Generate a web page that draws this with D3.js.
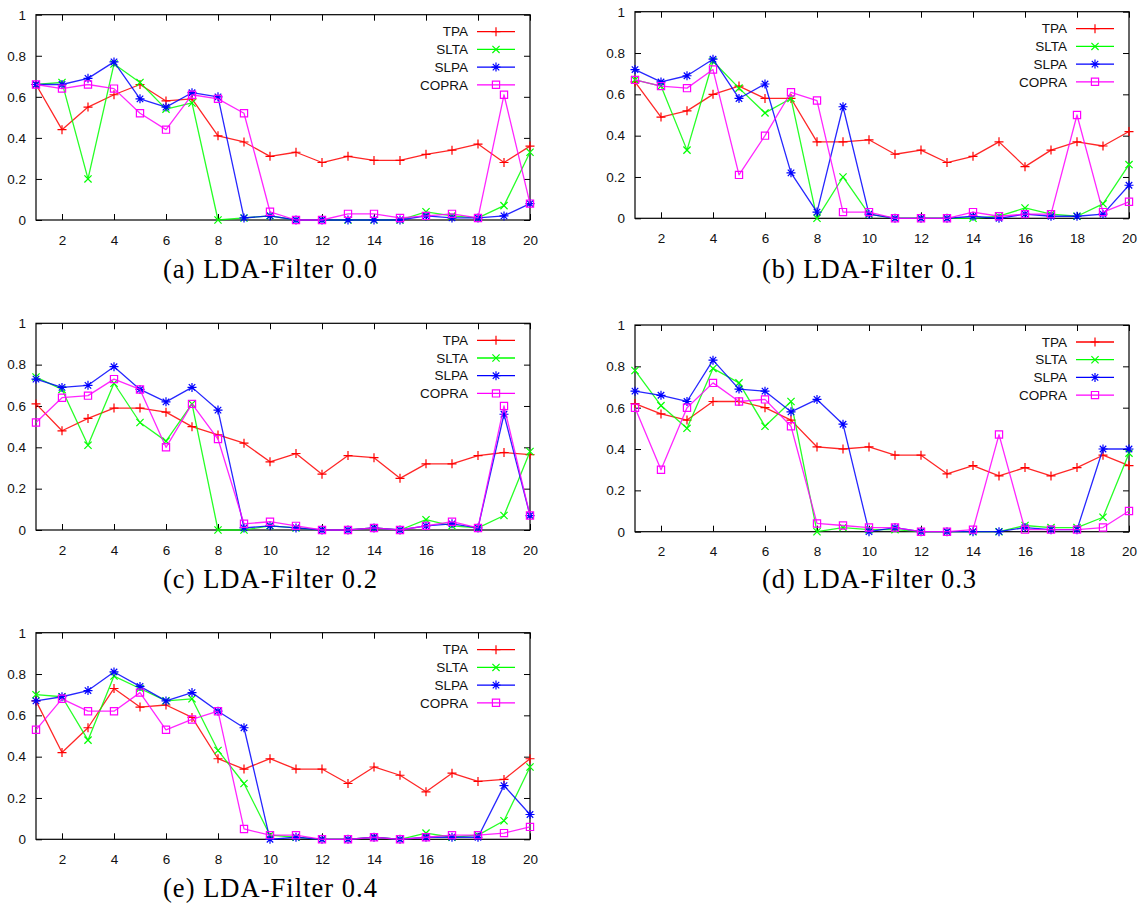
<!DOCTYPE html>
<html>
<head>
<meta charset="utf-8">
<script src="https://cdn.jsdelivr.net/npm/d3@7"></script>
<style>
  html, body { margin: 0; padding: 0; background: #fff; }
  svg { display: block; }
</style>
</head>
<body>
<script>
// Run index on the x axis, score on the y axis
const runs = [1, 2, 3, 4, 5, 6, 7, 8, 9, 10, 11, 12, 13, 14, 15, 16, 17, 18, 19, 20];
const xTicks = [2, 4, 6, 8, 10, 12, 14, 16, 18, 20];
const yTicks = [0, 0.2, 0.4, 0.6, 0.8, 1];
const yTickLabels = ["0", "0.2", "0.4", "0.6", "0.8", "1"];
const methods = ["TPA", "SLTA", "SLPA", "COPRA"];
const captions = ["(a) LDA-Filter 0.0", "(b) LDA-Filter 0.1", "(c) LDA-Filter 0.2", "(d) LDA-Filter 0.3", "(e) LDA-Filter 0.4"];

// LDA-Filter 0.0
const tpa00   = [0.66, 0.44, 0.55, 0.61, 0.66, 0.58, 0.59, 0.41, 0.38, 0.31, 0.33, 0.28, 0.31, 0.29, 0.29, 0.32, 0.34, 0.37, 0.28, 0.36];
const slta00  = [0.66, 0.67, 0.20, 0.76, 0.67, 0.54, 0.57, 0.00, 0.01, 0.02, 0.00, 0.00, 0.00, 0.00, 0.00, 0.04, 0.02, 0.01, 0.07, 0.33];
const slpa00  = [0.66, 0.66, 0.69, 0.77, 0.59, 0.55, 0.62, 0.60, 0.01, 0.02, 0.00, 0.00, 0.00, 0.00, 0.00, 0.02, 0.01, 0.01, 0.02, 0.08];
const copra00 = [0.66, 0.64, 0.66, 0.64, 0.52, 0.44, 0.61, 0.59, 0.52, 0.04, 0.00, 0.00, 0.03, 0.03, 0.01, 0.02, 0.03, 0.01, 0.61, 0.08];

// LDA-Filter 0.1
const tpa01   = [0.66, 0.49, 0.52, 0.60, 0.64, 0.58, 0.58, 0.37, 0.37, 0.38, 0.31, 0.33, 0.27, 0.30, 0.37, 0.25, 0.33, 0.37, 0.35, 0.42];
const slta01  = [0.67, 0.64, 0.33, 0.76, 0.63, 0.51, 0.58, 0.00, 0.20, 0.02, 0.00, 0.00, 0.00, 0.00, 0.01, 0.05, 0.02, 0.01, 0.07, 0.26];
const slpa01  = [0.72, 0.66, 0.69, 0.77, 0.58, 0.65, 0.22, 0.03, 0.54, 0.02, 0.00, 0.00, 0.00, 0.01, 0.00, 0.02, 0.01, 0.01, 0.02, 0.16];
const copra01 = [0.67, 0.64, 0.63, 0.72, 0.21, 0.40, 0.61, 0.57, 0.03, 0.03, 0.00, 0.00, 0.00, 0.03, 0.01, 0.02, 0.02, 0.50, 0.03, 0.08];

// LDA-Filter 0.2
const tpa02   = [0.61, 0.48, 0.54, 0.59, 0.59, 0.57, 0.50, 0.46, 0.42, 0.33, 0.37, 0.27, 0.36, 0.35, 0.25, 0.32, 0.32, 0.36, 0.375, 0.365];
const slta02  = [0.74, 0.68, 0.41, 0.71, 0.52, 0.43, 0.61, 0.00, 0.00, 0.02, 0.01, 0.00, 0.00, 0.01, 0.00, 0.05, 0.02, 0.01, 0.07, 0.38];
const slpa02  = [0.73, 0.69, 0.70, 0.79, 0.68, 0.62, 0.69, 0.58, 0.01, 0.02, 0.01, 0.00, 0.00, 0.01, 0.00, 0.02, 0.03, 0.01, 0.56, 0.07];
const copra02 = [0.52, 0.64, 0.65, 0.73, 0.68, 0.40, 0.61, 0.44, 0.03, 0.04, 0.02, 0.00, 0.00, 0.01, 0.00, 0.02, 0.04, 0.01, 0.60, 0.07];

// LDA-Filter 0.3
const tpa03   = [0.62, 0.57, 0.54, 0.63, 0.63, 0.60, 0.54, 0.41, 0.40, 0.41, 0.37, 0.37, 0.28, 0.32, 0.27, 0.31, 0.27, 0.31, 0.37, 0.32];
const slta03  = [0.78, 0.61, 0.50, 0.79, 0.72, 0.51, 0.63, 0.00, 0.02, 0.01, 0.01, 0.00, 0.00, 0.00, 0.00, 0.03, 0.02, 0.02, 0.07, 0.38];
const slpa03  = [0.68, 0.66, 0.63, 0.83, 0.69, 0.68, 0.58, 0.64, 0.52, 0.00, 0.02, 0.00, 0.00, 0.00, 0.00, 0.02, 0.01, 0.01, 0.40, 0.40];
const copra03 = [0.60, 0.30, 0.60, 0.72, 0.63, 0.64, 0.51, 0.04, 0.03, 0.02, 0.02, 0.00, 0.00, 0.01, 0.47, 0.01, 0.01, 0.01, 0.02, 0.10];

// LDA-Filter 0.4
const tpa04   = [0.67, 0.42, 0.54, 0.73, 0.64, 0.65, 0.59, 0.39, 0.34, 0.39, 0.34, 0.34, 0.27, 0.35, 0.31, 0.23, 0.32, 0.28, 0.29, 0.39];
const slta04  = [0.70, 0.69, 0.48, 0.79, 0.73, 0.67, 0.68, 0.43, 0.27, 0.02, 0.01, 0.00, 0.00, 0.01, 0.00, 0.03, 0.01, 0.02, 0.09, 0.35];
const slpa04  = [0.67, 0.69, 0.72, 0.81, 0.74, 0.67, 0.71, 0.62, 0.54, 0.00, 0.01, 0.00, 0.00, 0.01, 0.00, 0.01, 0.01, 0.01, 0.26, 0.12];
const copra04 = [0.53, 0.68, 0.62, 0.62, 0.71, 0.53, 0.58, 0.62, 0.05, 0.02, 0.02, 0.00, 0.00, 0.01, 0.00, 0.01, 0.02, 0.02, 0.03, 0.06];

const panelSeries = [
  [tpa00, slta00, slpa00, copra00],
  [tpa01, slta01, slpa01, copra01],
  [tpa02, slta02, slpa02, copra02],
  [tpa03, slta03, slpa03, copra03],
  [tpa04, slta04, slpa04, copra04]
];

// Styling and layout
const colors = ["#ff0000", "#00ff00", "#0000ff", "#ff00ff"];
const markerKinds = ["plus", "cross", "star", "square"];
const frames = [
  { left: 36,  right: 530,  top: 14.7,  bottom: 220,   capY: 278 },
  { left: 635, right: 1129, top: 11.7,  bottom: 218.3, capY: 278 },
  { left: 36,  right: 530,  top: 323.3, bottom: 530,   capY: 588 },
  { left: 635, right: 1129, top: 325,   bottom: 531.7, capY: 588 },
  { left: 36,  right: 530,  top: 632.7, bottom: 839.3, capY: 897 }
];
const tickFont = "'Liberation Sans', Arial, sans-serif";
const tickSize = 13.5;

const svg = d3.select("body").append("svg")
  .attr("width", 1148).attr("height", 908);

function markerPath(kind, r) {
  const p = d3.path();
  if (kind === "plus" || kind === "star") {
    p.moveTo(-r, 0); p.lineTo(r, 0);
    p.moveTo(0, -r); p.lineTo(0, r);
  }
  if (kind === "cross" || kind === "star") {
    const c = kind === "star" ? r * 0.72 : r * 0.8;
    p.moveTo(-c, -c); p.lineTo(c, c);
    p.moveTo(-c, c); p.lineTo(c, -c);
  }
  if (kind === "square") {
    const s = 3.6;
    p.rect(-s, -s, 2 * s, 2 * s);
  }
  return p.toString();
}

frames.forEach((f, pi) => {
  const g = svg.append("g");
  const x = d3.scaleLinear().domain([1, 20]).range([f.left, f.right]);
  const y = d3.scaleLinear().domain([0, 1]).range([f.bottom, f.top]);

  // axes with inward ticks, mirrored on top and right
  const styleAxis = sel => {
    sel.select(".domain").remove();
    sel.selectAll(".tick line").attr("stroke", "#000").attr("stroke-width", 1);
    sel.selectAll("text").attr("fill", "#111")
      .attr("font-family", tickFont).attr("font-size", tickSize);
  };
  g.append("g").attr("transform", `translate(0,${f.bottom})`)
    .call(d3.axisBottom(x).tickValues(xTicks).tickSize(-6).tickPadding(15).tickFormat(d3.format("d")))
    .call(styleAxis);
  g.append("g").attr("transform", `translate(0,${f.top})`)
    .call(d3.axisTop(x).tickValues(xTicks).tickSize(-6).tickFormat(""))
    .call(styleAxis);
  g.append("g").attr("transform", `translate(${f.left},0)`)
    .call(d3.axisLeft(y).tickValues(yTicks).tickSize(-6).tickPadding(10)
      .tickFormat((d, i) => yTickLabels[i]))
    .call(styleAxis);
  g.append("g").attr("transform", `translate(${f.right},0)`)
    .call(d3.axisRight(y).tickValues(yTicks).tickSize(-6).tickFormat(""))
    .call(styleAxis);

  // plot border
  g.append("rect")
    .attr("x", f.left).attr("y", f.top)
    .attr("width", f.right - f.left).attr("height", f.bottom - f.top)
    .attr("fill", "none").attr("stroke", "#000").attr("stroke-width", 1.2);

  // series lines and point markers
  const line = d3.line().x((d, i) => x(runs[i])).y(d => y(d));
  panelSeries[pi].forEach((vals, si) => {
    g.append("path").datum(vals)
      .attr("d", line)
      .attr("fill", "none").attr("stroke", colors[si])
      .attr("stroke-width", 1.3).attr("stroke-opacity", 0.85)
      .attr("stroke-linejoin", "round");
    g.selectAll(null).data(vals).enter().append("path")
      .attr("transform", (d, i) => `translate(${x(runs[i])},${y(d)})`)
      .attr("d", markerPath(markerKinds[si], 4.5))
      .attr("fill", "none").attr("stroke", colors[si]).attr("stroke-width", 1.2);
  });

  // legend
  methods.forEach((m, si) => {
    const ly = f.top + 17 + si * 17.7;
    g.append("text")
      .attr("x", f.right - 62).attr("y", ly).attr("dy", "0.35em")
      .attr("text-anchor", "end")
      .attr("font-family", tickFont).attr("font-size", tickSize).attr("fill", "#111")
      .text(m);
    g.append("line")
      .attr("x1", f.right - 53).attr("x2", f.right - 15)
      .attr("y1", ly).attr("y2", ly)
      .attr("stroke", colors[si]).attr("stroke-width", 1.3);
    g.append("path")
      .attr("transform", `translate(${f.right - 34},${ly})`)
      .attr("d", markerPath(markerKinds[si], 4.5))
      .attr("fill", "none").attr("stroke", colors[si]).attr("stroke-width", 1.2);
  });

  // sub-figure caption
  g.append("text")
    .attr("x", f.left + 234).attr("y", f.capY)
    .attr("text-anchor", "middle")
    .attr("font-family", "'Liberation Serif', 'Times New Roman', serif")
    .attr("font-size", 26.5).attr("fill", "#000")
    .attr("textLength", 214).attr("lengthAdjust", "spacing")
    .text(captions[pi]);
});
</script>
</body>
</html>
